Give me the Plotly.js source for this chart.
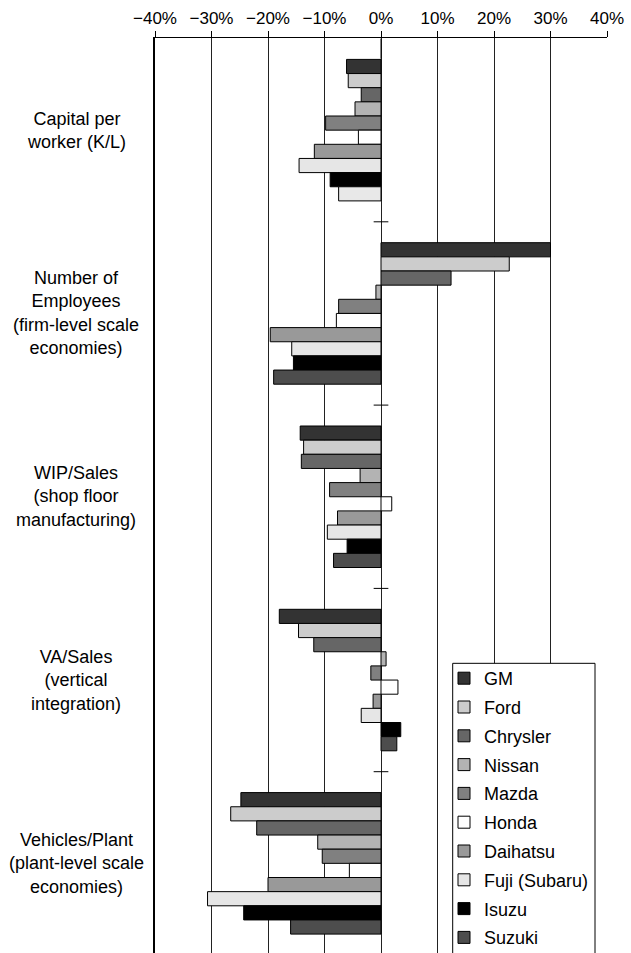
<!DOCTYPE html>
<html><head><meta charset="utf-8">
<script src="https://cdn.plot.ly/plotly-3.0.1.min.js"></script>
<style>html,body{margin:0;padding:0;overflow:hidden;background:#fff}</style>
</head><body><div id="chart" style="width:631px;height:956px"></div>
<script>
const categories = [
  'Capital per<br>worker (K/L)',
  'Number of<br>Employees<br>(firm-level scale<br>economies)',
  'WIP/Sales<br>(shop floor<br>manufacturing)',
  'VA/Sales<br>(vertical<br>integration)',
  'Vehicles/Plant<br>(plant-level scale<br>economies)'
];
const seriesNames = ['GM','Ford','Chrysler','Nissan','Mazda','Honda','Daihatsu','Fuji (Subaru)','Isuzu','Suzuki'];
const gm       = [-6.1, 30.0, -14.3, -18.0, -24.8];
const ford     = [-5.8, 22.7, -13.7, -14.6, -26.6];
const chrysler = [-3.5, 12.4, -14.1, -11.9, -22.0];
const nissan   = [-4.6, -0.9,  -3.7,   0.9, -11.2];
const mazda    = [-9.8, -7.5,  -9.1,  -1.8, -10.4];
const honda    = [-4.0, -7.9,   1.9,   3.0,  -5.6];
const daihatsu = [-11.8, -19.6, -7.7, -1.4, -20.0];
const fuji     = [-14.5, -15.8, -9.5, -3.5, -30.7];
const isuzu    = [-9.0, -15.5,  -6.0,  3.5, -24.3];
const suzuki   = [-7.5, -19.0,  -8.4,  2.8, -16.0];
const xTicks = [-40,-30,-20,-10,0,10,20,30,40];
const xTickText = ['\u221240%','\u221230%','\u221220%','\u221210%','0%','10%','20%','30%','40%'];

const seriesValues = [gm, ford, chrysler, nissan, mazda, honda, daihatsu, fuji, isuzu, suzuki];
const fills = ['#333333','#cccccc','#666666','#b3b3b3','#808080','#ffffff','#999999','#e6e6e6','#000000','#4d4d4d'];

const FONT = 'Liberation Sans, Arial, Helvetica, sans-serif';
const traces = seriesNames.map((name, i) => ({
  type: 'bar', orientation: 'h', name: name,
  x: seriesValues[i], y: categories,
  legendgroup: 'g' + i,
  marker: { color: fills[i], line: {color: '#000', width: 1} },
  hoverinfo: 'x+name'
}));
// in the reference the first Suzuki bar is printed in a light tone
traces[9].marker.color = categories.map((c, k) => k === 0 ? '#e8e8e8' : fills[9]);
traces[9].showlegend = false;
// legend entry for Suzuki with its proper dark swatch
traces.push({
  type:'scatter', mode:'markers', name:'Suzuki', x:[null], y:[null],
  legendgroup:'g9', showlegend:true,
  marker:{symbol:'square', size:12, color:fills[9], line:{color:'#000', width:1}},
  hoverinfo:'skip'
});

const L = 155, R = 24, T = 38, H = 956, W = 631;
const PW = W - L - R, PH = H - T;
const px = v => (v - L) / PW;
const py = v => (H - v) / PH;

const shapes = [];
[0.5, 1.5, 2.5, 3.5].forEach(y => shapes.push({type:'line', xref:'x', yref:'y', x0:-1.3, x1:1.3, y0:y, y1:y, line:{color:'#000', width:1}}));
shapes.push({type:'line', xref:'x', yref:'y', x0:0, x1:0, y0:-0.5, y1:-0.39, line:{color:'#000', width:1}});
shapes.push({type:'rect', xref:'paper', yref:'paper', x0:px(452.7), x1:px(595), y0:-0.05, y1:py(664), fillcolor:'#fff', line:{color:'#000', width:1}, layer:'above'});

const annotations = categories.map(c => ({
  xref:'paper', yref:'y', x:px(76), y:c, xanchor:'center', yanchor:'middle',
  text:c, showarrow:false, align:'center', font:{family:FONT, size:18, color:'#000'}
}));

const layout = {
  width: W, height: H,
  margin: {l:L, r:R, t:T, b:0, pad:0},
  paper_bgcolor:'#fff', plot_bgcolor:'#fff',
  font: {family: FONT, color:'#000', size:17},
  barmode: 'group', bargap: 0.228, bargroupgap: 0,
  xaxis: {
    side:'top', range:[-40,40], tickmode:'array', tickvals:xTicks, ticktext:xTickText,
    ticks:'outside', ticklen:6, tickcolor:'#000', tickwidth:1,
    showline:true, linecolor:'#000', linewidth:1,
    showgrid:true, gridcolor:'#222', gridwidth:1, zeroline:false,
    tickfont:{family:FONT, size:17, color:'#000'}, fixedrange:true
  },
  yaxis: {
    type:'category', autorange:'reversed', showticklabels:false, ticks:'',
    showgrid:false, zeroline:false, showline:true, linecolor:'#000', linewidth:2.5,
    fixedrange:true
  },
  showlegend: true,
  legend: {
    x: px(444), xanchor:'left', y: py(661), yanchor:'top',
    bgcolor:'rgba(0,0,0,0)', borderwidth:0, tracegroupgap:2.4,
    traceorder:'grouped',
    font:{family:FONT, size:18, color:'#000'}
  },
  shapes: shapes,
  annotations: annotations
};

Plotly.newPlot('chart', traces, layout, {displayModeBar:false, staticPlot:true});
</script>
</body></html>
